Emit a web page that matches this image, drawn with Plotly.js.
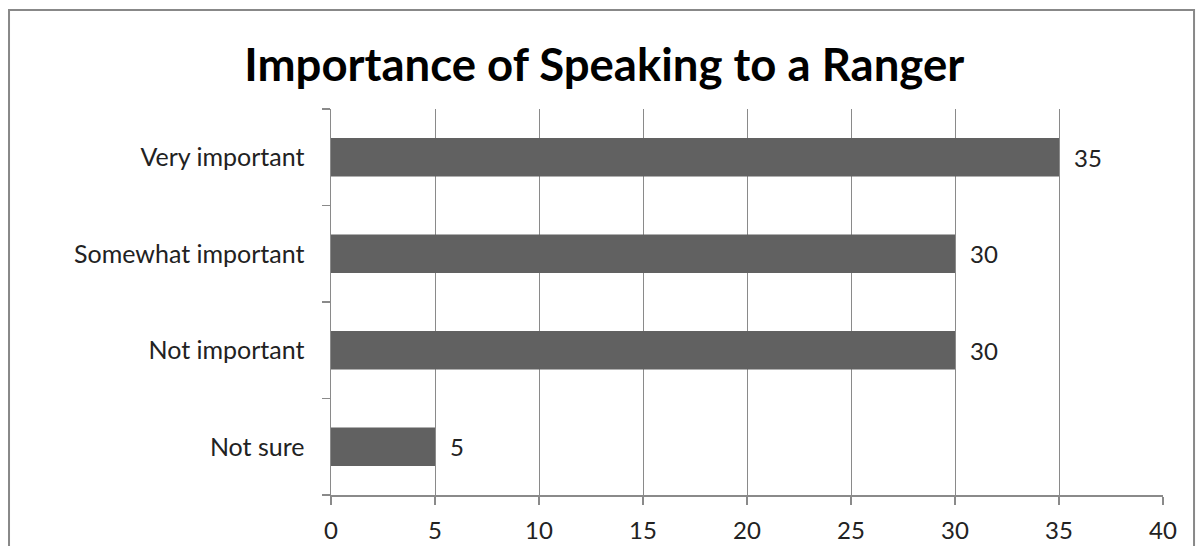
<!DOCTYPE html>
<html>
<head>
<meta charset="utf-8">
<script src="https://cdn.plot.ly/plotly-3.0.1.min.js"></script>
<style>
  html, body { margin: 0; padding: 0; background: #ffffff; }
  #chart { width: 1199px; height: 546px; }
</style>
</head>
<body>
<div id="chart"></div>
<script>
// Survey responses: how important is speaking to a ranger
const categories = ["Not sure", "Not important", "Somewhat important", "Very important"];
const counts = [5, 30, 30, 35];
const xTicks = [0, 5, 10, 15, 20, 25, 30, 35, 40];

const FONT = "Lato, 'Open Sans', sans-serif";
const GRID = "#8a8a8a";

const trace = {
  type: "bar",
  orientation: "h",
  x: counts,
  y: categories,
  marker: { color: "#616161", line: { width: 0 } },
  hoverinfo: "x+y"
};

// value labels just past the end of each bar
const valueLabels = counts.map((v, i) => ({
  x: v, y: categories[i], xref: "x", yref: "y",
  text: String(v), showarrow: false,
  xanchor: "left", xshift: 13,
  font: { family: FONT, size: 24, color: "#222222" }
}));

const layout = {
  width: 1199, height: 546,
  margin: { l: 331, r: 36, t: 109, b: 51 },
  paper_bgcolor: "#ffffff",
  plot_bgcolor: "#ffffff",
  showlegend: false,
  bargap: 0.6,
  title: {
    text: "<b>Importance of Speaking to a Ranger</b>",
    x: 0.504, xanchor: "center",
    y: 0.88, yanchor: "middle",
    font: { family: FONT, size: 45.5, color: "#000000" }
  },
  xaxis: {
    range: [0, 40],
    tickvals: xTicks,
    ticktext: xTicks.map(String),
    showgrid: true, gridcolor: GRID, gridwidth: 1,
    zeroline: false,
    showline: true, linecolor: GRID, linewidth: 1.5,
    ticks: "outside", ticklen: 8, tickcolor: GRID, tickwidth: 1.5,
    ticklabelstandoff: 6,
    tickfont: { family: FONT, size: 24, color: "#222222" },
    fixedrange: true
  },
  yaxis: {
    type: "category",
    categoryorder: "array", categoryarray: categories,
    range: [-0.5, 3.5],
    tickson: "boundaries",
    showgrid: false,
    zeroline: false,
    showline: true, linecolor: GRID, linewidth: 1.5,
    ticks: "outside", ticklen: 8, tickcolor: GRID, tickwidth: 1.5,
    ticklabelstandoff: 20,
    tickfont: { family: FONT, size: 25, color: "#222222" },
    fixedrange: true
  },
  annotations: valueLabels,
  shapes: [{
    // chart frame
    type: "rect", xref: "paper", yref: "paper",
    x0: -0.387, x1: 1.0373, y0: -0.2, y1: 1.2565,
    line: { color: "#888888", width: 2 },
    fillcolor: "rgba(0,0,0,0)", layer: "below"
  }]
};

Plotly.newPlot("chart", [trace], layout, { displayModeBar: false, staticPlot: true });
</script>
</body>
</html>
